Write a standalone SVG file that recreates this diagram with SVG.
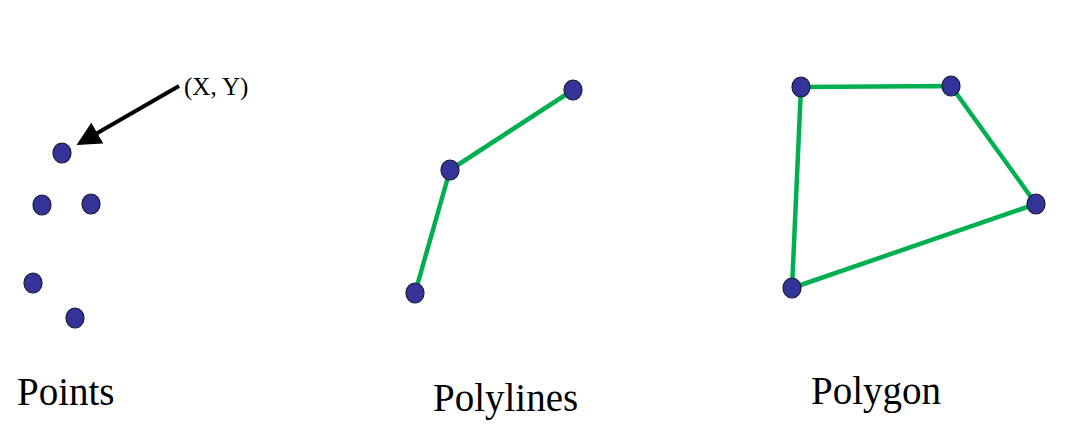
<svg xmlns="http://www.w3.org/2000/svg" width="1079" height="438" viewBox="0 0 1079 438">
<style>
.dot{fill:#333399;stroke:#1a1a33;stroke-width:1.2}
.edge{fill:none;stroke:#00b050;stroke-width:4.5;stroke-linejoin:round}
.lbl{font-family:"Liberation Serif","Times New Roman",serif;fill:#000}
</style>
<defs>
<marker id="ah" markerWidth="6" markerHeight="6" refX="5" refY="3" orient="auto" markerUnits="strokeWidth">
<path d="M0,0 L6,3 L0,6 Z" fill="#000"/>
</marker>
</defs>
<rect width="1079" height="438" fill="#fff"/>
<g id="connectors">
<line x1="179" y1="86" x2="80" y2="143" stroke="#000" stroke-width="4" marker-end="url(#ah)"/>
<polyline class="edge" points="415,293 450,170 573,90"/>
<polygon class="edge" points="801,87 951,86 1036,204 792,288"/>
</g>
<g id="points">
<ellipse class="dot" cx="62" cy="153" rx="9" ry="10"/>
<ellipse class="dot" cx="42" cy="205" rx="9" ry="10"/>
<ellipse class="dot" cx="91" cy="204" rx="9" ry="10"/>
<ellipse class="dot" cx="33" cy="283" rx="9" ry="10"/>
<ellipse class="dot" cx="75" cy="318" rx="9" ry="10"/>
</g>
<g id="polyline-vertices">
<ellipse class="dot" cx="415" cy="293" rx="9" ry="10"/>
<ellipse class="dot" cx="450" cy="170" rx="9" ry="10"/>
<ellipse class="dot" cx="573" cy="90" rx="9" ry="10"/>
</g>
<g id="polygon-vertices">
<ellipse class="dot" cx="801" cy="87" rx="9" ry="10"/>
<ellipse class="dot" cx="951" cy="86" rx="9" ry="10"/>
<ellipse class="dot" cx="1036" cy="204" rx="9" ry="10"/>
<ellipse class="dot" cx="792" cy="288" rx="9" ry="10"/>
</g>
<g id="labels">
<text class="lbl" x="184" y="95" font-size="25">(X, Y)</text>
<text class="lbl" x="17" y="405" font-size="39">Points</text>
<text class="lbl" x="433" y="411" font-size="39">Polylines</text>
<text class="lbl" x="811" y="404" font-size="39">Polygon</text>
</g>
</svg>
